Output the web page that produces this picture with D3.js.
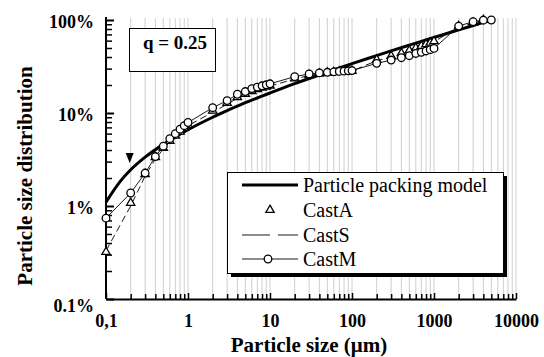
<!DOCTYPE html>
<html><head><meta charset="utf-8">
<script src="https://cdn.jsdelivr.net/npm/d3@7"></script>
<style>
html,body{margin:0;padding:0;background:#fff;}
svg{display:block;font-family:"Liberation Serif","Times New Roman",serif;}
</style></head>
<body>
<svg id="c" width="544" height="357"></svg>
<script>
// ---- data ----
const xTickLabels = ["0,1", "1", "10", "100", "1000", "10000"];
const xTickValues = [0.1, 1, 10, 100, 1000, 10000];
const yTickLabels = ["0.1%", "1%", "10%", "100%"];
const yTickValues = [0.1, 1, 10, 100];

const modelSizes = [0.1,0.15,0.2,0.3,0.5,0.7,1,2,3,5,7,10,20,30,50,70,100,200,300,500,700,1000,2000,3000,4000,5000];
const modelValues = [1.1,1.85,2.45,3.35,4.6,5.5,6.6,9.0,10.6,12.9,14.5,16.4,20.7,23.5,27.5,30.5,33.9,41.4,46.5,53.6,58.8,64.9,78.3,87.3,94.3,100];

const castMSizes = [0.1,0.2,0.3,0.4,0.5,0.6,0.7,0.8,0.9,1,2,3,4,5,6,7,8,9,10,20,30,40,50,60,70,80,90,100,200,300,400,500,600,700,800,900,1000,2000,3000,4000,5000];
const castMValues = [0.74,1.38,2.26,3.4,4.4,5.3,6.0,6.7,7.3,7.9,11.4,13.6,15.9,17.0,18.3,19.0,19.6,20.1,20.6,24.6,26.3,27.0,27.4,27.7,28.0,28.2,28.4,28.6,34.2,37.1,39.3,41.3,43.7,45.0,46.5,48.0,49.5,86,96,99.5,100];

const castASizes = [0.1,0.2,0.3,0.4,0.5,0.6,0.7,0.8,0.9,1,2,3,4,5,6,7,8,9,10,20,30,40,50,60,70,80,90,100,200,300,400,500,600,700,800,900,1000,2000,3000,4000];
const castAValues = [0.32,1.08,2.2,3.35,4.2,5.0,5.7,6.3,6.9,7.4,10.6,12.8,14.8,16.0,17.2,18.0,18.7,19.2,19.7,23.5,25.5,26.5,27.2,27.5,27.8,28.0,28.2,28.4,37.5,41,44,47,50,52.5,55,57,59,86,94,100];

const castSSizes = castASizes;
const castSValues = [0.33,1.0,2.1,3.2,4.1,4.9,5.6,6.2,6.8,7.3,10.2,12.4,14.4,15.7,16.9,17.7,18.4,19.0,19.5,23.2,25.3,26.4,27.0,27.3,27.6,27.9,28.1,28.3,36.5,40,43,46,49,51.5,54,56,58,85,93,100];

const legendLabels = ["Particle packing model", "CastA", "CastS", "CastM"];
const qLabel = "q = 0.25";
const arrowAt = 0.2;

// ---- chart ----
const svg = d3.select("#c");
const FONT = '"Liberation Serif","Times New Roman",serif';
const x = d3.scaleLog().domain([0.1, 10000]).range([106, 516]);
const y = d3.scaleLog().domain([0.1, 100]).range([299, 20]);

const minors = [];
[0.1, 1, 10, 100, 1000].forEach(d => { for (let k = 2; k <= 9; k++) minors.push(+(d * k).toPrecision(3)); });
const gridVals = minors.concat([1, 10, 100, 1000, 10000]);

// grid
svg.append("g").selectAll("line").data(gridVals).join("line")
  .attr("x1", d => x(d)).attr("x2", d => x(d))
  .attr("y1", y(0.1)).attr("y2", 18)
  .attr("stroke", "#cfcfcf").attr("stroke-width", 1);

// x axis
const xAxis = d3.axisBottom(x).tickValues(xTickValues).tickFormat((d, i) => xTickLabels[i]).tickSizeInner(-6).tickSizeOuter(0).tickPadding(15);
const gx = svg.append("g").attr("transform", `translate(0,${y(0.1)})`).call(xAxis);
gx.attr("font-family", FONT);
gx.select(".domain").attr("stroke", "#000").attr("stroke-width", 2);
gx.selectAll(".tick line").attr("stroke", "#000").attr("stroke-width", 1.5);
gx.selectAll("text").attr("font-size", 18).attr("font-weight", "bold").attr("fill", "#000");
const xMinor = d3.axisBottom(x).tickValues(minors).tickFormat("").tickSizeInner(-5).tickSizeOuter(0);
const gxm = svg.append("g").attr("transform", `translate(0,${y(0.1)})`).call(xMinor);
gxm.select(".domain").remove();
gxm.selectAll(".tick line").attr("stroke", "#000").attr("stroke-width", 1.5);

// y axis
const yMinorVals = [];
[0.1, 1, 10].forEach(d => { for (let k = 2; k <= 9; k++) yMinorVals.push(+(d * k).toPrecision(3)); });
const yAxis = d3.axisLeft(y).tickValues(yTickValues).tickFormat((d, i) => yTickLabels[i]).tickSizeInner(-8).tickSizeOuter(0).tickPadding(12);
const gy = svg.append("g").attr("transform", `translate(${x(0.1)},0)`).call(yAxis);
gy.attr("font-family", FONT);
gy.select(".domain").attr("stroke", "#000").attr("stroke-width", 2).attr("d", `M0,${y(0.1)}V17`);
gy.selectAll(".tick line").attr("stroke", "#000").attr("stroke-width", 2);
gy.selectAll("text").attr("font-size", 18).attr("font-weight", "bold").attr("fill", "#000")
  .attr("dy", d => d === 0.1 ? "0.72em" : "0.39em");
const yMinor = d3.axisLeft(y).tickValues(yMinorVals).tickFormat("").tickSizeInner(-6).tickSizeOuter(0);
const gym = svg.append("g").attr("transform", `translate(${x(0.1)},0)`).call(yMinor);
gym.select(".domain").remove();
gym.selectAll(".tick line").attr("stroke", "#000").attr("stroke-width", 1.5);

// axis titles
svg.append("text").attr("x", 309).attr("y", 352).attr("text-anchor", "middle").attr("font-weight", "bold")
  .attr("font-size", 21).text("Particle size (μm)");
svg.append("text").attr("transform", "translate(32,176) rotate(-90)").attr("text-anchor", "middle").attr("font-weight", "bold")
  .attr("font-size", 21).text("Particle size distribution");

// q box
svg.append("rect").attr("x", 129.5).attr("y", 28.5).attr("width", 86).attr("height", 43)
  .attr("fill", "#fff").attr("stroke", "#000").attr("stroke-width", 1);
svg.append("text").attr("x", 175).attr("y", 49).attr("text-anchor", "middle").attr("font-weight", "bold")
  .attr("font-size", 19).text(qLabel);

// arrow
const ax = x(arrowAt) - 1;
svg.append("path").attr("d", `M${ax - 4},153 L${ax + 4},153 L${ax},163 Z`).attr("fill", "#000");

// lines
const line = d3.line().x(d => x(d[0])).y(d => y(d[1]));
const zip = (a, b) => a.map((v, i) => [v, b[i]]);
const mData = zip(castMSizes, castMValues);
const aData = zip(castASizes, castAValues);
const sData = zip(castSSizes, castSValues);
const pData = zip(modelSizes, modelValues);

svg.append("path").datum(sData).attr("d", line).attr("fill", "none").attr("stroke", "#000")
  .attr("stroke-width", 0.9).attr("stroke-dasharray", "7,4");
svg.append("path").datum(mData).attr("d", line).attr("fill", "none").attr("stroke", "#000").attr("stroke-width", 0.9);
svg.append("path").datum(pData).attr("d", d3.line().x(d => x(d[0])).y(d => y(d[1])).curve(d3.curveMonotoneX))
  .attr("fill", "none").attr("stroke", "#000").attr("stroke-width", 3);

const tri = d3.symbol().type(d3.symbolTriangle).size(30);
svg.append("g").selectAll("path").data(aData).join("path")
  .attr("transform", d => `translate(${x(d[0])},${y(d[1])})`).attr("d", tri)
  .attr("fill", "#fff").attr("stroke", "#000").attr("stroke-width", 1.3);
svg.append("g").selectAll("circle").data(mData).join("circle")
  .attr("cx", d => x(d[0])).attr("cy", d => y(d[1])).attr("r", 3.8)
  .attr("fill", "#fff").attr("stroke", "#000").attr("stroke-width", 1.3);

// legend
svg.append("rect").attr("x", 231).attr("y", 176).attr("width", 276).attr("height", 101).attr("fill", "#000");
svg.append("rect").attr("x", 227.5).attr("y", 172.5).attr("width", 276).attr("height", 101)
  .attr("fill", "#fff").attr("stroke", "#000").attr("stroke-width", 1);
const ly = [185, 210, 235, 259];
const lg = svg.append("g");
lg.append("line").attr("x1", 242).attr("x2", 298).attr("y1", ly[0]).attr("y2", ly[0]).attr("stroke", "#000").attr("stroke-width", 3);
lg.append("path").attr("transform", `translate(270,${ly[1]})`).attr("d", tri).attr("fill", "#fff").attr("stroke", "#000").attr("stroke-width", 1.3);
lg.append("line").attr("x1", 242).attr("x2", 298).attr("y1", ly[2]).attr("y2", ly[2]).attr("stroke", "#000").attr("stroke-width", 0.9).attr("stroke-dasharray", "28,8");
lg.append("line").attr("x1", 242).attr("x2", 298).attr("y1", ly[3]).attr("y2", ly[3]).attr("stroke", "#000").attr("stroke-width", 0.9);
lg.append("circle").attr("cx", 268).attr("cy", ly[3]).attr("r", 3.8).attr("fill", "#fff").attr("stroke", "#000").attr("stroke-width", 1.3);
lg.selectAll("text").data(legendLabels).join("text")
  .attr("x", 303).attr("y", (d, i) => ly[i] + 6.5).attr("font-size", 20).text(d => d);
</script>
</body></html>
